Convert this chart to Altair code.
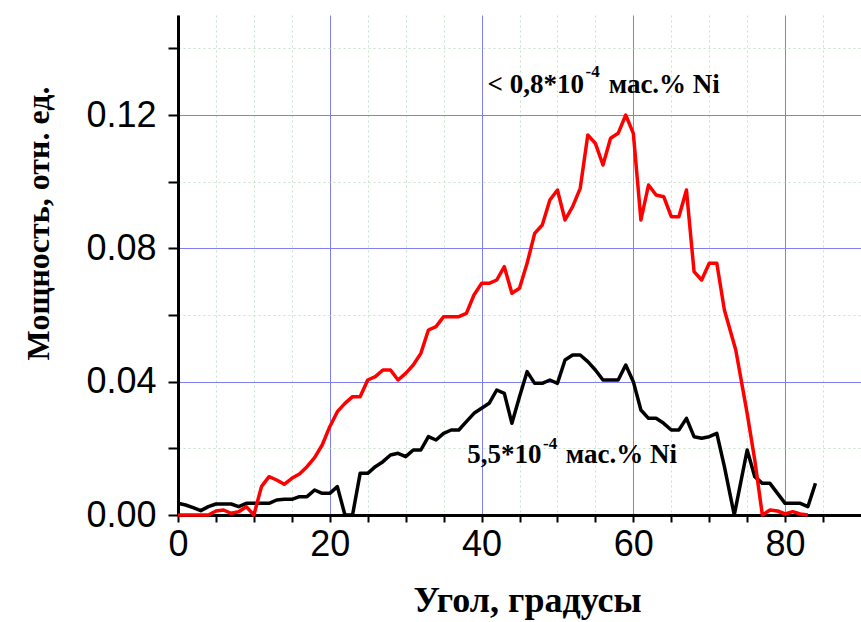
import altair as alt
import pandas as pd

# ---- data ----
x_red = [0, 1, 2, 3, 4, 5, 6, 7, 8, 9, 10, 11, 12, 13, 14, 15, 16, 17, 18, 19,
         20, 21, 22, 23, 24, 25, 26, 27, 28, 29, 30, 31, 32, 33, 34, 35, 36, 37, 38, 39,
         40, 41, 42, 43, 44, 45, 46, 47, 48, 49, 50, 51, 52, 53, 54, 55, 56, 57, 58, 59,
         60, 61, 62, 63, 64, 65, 66, 67, 68, 69, 70, 71, 72, 73.5, 75, 76, 77, 78, 79, 80,
         81, 82, 83]
y_red = [0, 0, 0, 0, 0, 0.0012, 0.0015, 0.0005, 0.001, 0.0025, 0, 0.0085, 0.0115, 0.0105, 0.0092, 0.011, 0.0123, 0.0145, 0.0172, 0.021,
         0.0265, 0.031, 0.0335, 0.0355, 0.0355, 0.0405, 0.0415, 0.0435, 0.0435, 0.0405, 0.0425, 0.045, 0.0485, 0.0555, 0.0565, 0.0595, 0.0595, 0.0595, 0.0605, 0.066,
         0.0695, 0.0695, 0.0705, 0.0745, 0.0665, 0.068, 0.0755, 0.0845, 0.087, 0.0945, 0.0975, 0.0885, 0.0925, 0.098, 0.114, 0.1115, 0.105, 0.113, 0.1145, 0.120,
         0.1145, 0.0885, 0.099, 0.096, 0.0955, 0.0895, 0.0895, 0.0975, 0.073, 0.0705, 0.0755, 0.0755, 0.0615, 0.0495, 0.0305, 0.0165, 0, 0.0015, 0.0012, 0.0003,
         0.001, 0.0003, 0]

x_black = [0, 1, 2, 3, 4, 5, 6, 7, 8, 9, 10, 11, 12, 13, 14, 15, 16, 17, 18, 19,
           20, 21, 22, 23, 24, 25, 26, 27, 28, 29, 30, 31, 32, 33, 34, 35, 36, 37, 38, 39,
           40, 41, 42, 43, 44, 45, 46, 47, 48, 49, 50, 51, 52, 53, 54, 55, 56, 57, 58, 59,
           60, 61, 62, 63, 64, 65, 66, 67, 68, 69, 70, 71, 72, 73.3, 75, 76, 77, 78, 79, 80,
           81, 82, 83, 84]
y_black = [0.0035, 0.003, 0.0022, 0.0013, 0.0025, 0.0033, 0.0033, 0.0033, 0.0025, 0.0035, 0.0035, 0.0035, 0.0035, 0.0045, 0.0047, 0.0047, 0.0055, 0.0055, 0.0075, 0.0065,
           0.0065, 0.0085, 0, 0, 0.0125, 0.0125, 0.0145, 0.016, 0.018, 0.0185, 0.0175, 0.0195, 0.0195, 0.0235, 0.0225, 0.0245, 0.0255, 0.0255, 0.028, 0.0305,
           0.032, 0.0335, 0.0375, 0.0365, 0.0275, 0.0355, 0.043, 0.0395, 0.0395, 0.0405, 0.0395, 0.0465, 0.048, 0.048, 0.046, 0.0435, 0.0405, 0.0405, 0.0405, 0.045,
           0.040, 0.0315, 0.029, 0.029, 0.0275, 0.0255, 0.0255, 0.029, 0.0235, 0.023, 0.0235, 0.0245, 0.0145, 0, 0.0195, 0.0115, 0.0095, 0.0095, 0.0065, 0.0035,
           0.0035, 0.0035, 0.0025, 0.0095]

x_ticks = list(range(0, 90, 5))
y_ticks = [i / 100 for i in range(0, 16)]

label_main = ["< 0,8*10", "5,5*10"]
label_sup = ["-4", "-4"]
label_tail = ["мас.% Ni", "мас.% Ni"]
# anchor positions of the annotation pieces in data units
main_x = [53.5, 47.9]
main_y = [0.1266, 0.0156]
sup_x = [53.7, 48.1]
sup_y = [0.1314, 0.0198]
tail_x = [56.75, 51.1]

df_red = pd.DataFrame({"x": x_red, "y": y_red})
df_black = pd.DataFrame({"x": x_black, "y": y_black})
df_main = pd.DataFrame({"x": main_x, "y": main_y, "t": label_main})
df_sup = pd.DataFrame({"x": sup_x, "y": sup_y, "t": label_sup})
df_tail = pd.DataFrame({"x": tail_x, "y": main_y, "t": label_tail})

MAJOR = "#7f7ff2"
MINOR = "#c8e0cc"

x_scale = alt.Scale(domain=[0, 90], nice=False, zero=False)
y_scale = alt.Scale(domain=[0, 0.15], nice=False, zero=False)

x_axis = alt.Axis(
    values=x_ticks,
    labelExpr="datum.value % 20 === 0 ? datum.label : ''",
    format="d",
    labelFlush=False,
    labelOverlap=False,
    domainColor="black", domainWidth=3,
    tickColor="black", tickWidth=2, tickSize=7,
    labelFont="Liberation Sans", labelFontSize=36, labelColor="black", labelPadding=5,
    title="Угол, градусы",
    titleFont="Liberation Serif", titleFontWeight="bold", titleFontSize=36, titleColor="black",
    titleX=349, titleY=96, titleBaseline="alphabetic",
    grid=True,
    gridColor={"condition": {"test": "datum.value % 20 === 0", "value": MAJOR}, "value": MINOR},
    gridDash={"condition": {"test": "datum.value % 20 === 0", "value": []}, "value": [2, 3]},
    gridWidth=1,
)

y_axis = alt.Axis(
    values=y_ticks,
    labelExpr="round(datum.value * 100) % 4 === 0 ? format(datum.value, '.2f') : ''",
    labelOverlap=False,
    labelFlush=False,
    domainColor="black", domainWidth=3,
    tickColor="black", tickWidth=2, tickSize=10,
    labelFont="Liberation Sans", labelFontSize=36, labelColor="black", labelPadding=12,
    title="Мощность, отн. ед.",
    titleFont="Liberation Serif", titleFontWeight="bold", titleFontSize=32, titleColor="black",
    titleX=-130, titleY=208, titleBaseline="alphabetic",
    grid=True,
    gridColor={"condition": {"test": "round(datum.value * 100) % 4 === 0", "value": MAJOR}, "value": MINOR},
    gridDash={"condition": {"test": "round(datum.value * 100) % 4 === 0", "value": []}, "value": [2, 3]},
    gridWidth=1,
)

black_line = alt.Chart(df_black).mark_line(color="black", strokeWidth=3.5, strokeJoin="round").encode(
    x=alt.X("x:Q", scale=x_scale, axis=x_axis),
    y=alt.Y("y:Q", scale=y_scale, axis=y_axis),
    order="x:Q",
)
red_line = alt.Chart(df_red).mark_line(color="#ff0000", strokeWidth=3.5, strokeJoin="round").encode(
    x=alt.X("x:Q", scale=x_scale),
    y=alt.Y("y:Q", scale=y_scale),
    order="x:Q",
)

txt_main = alt.Chart(df_main).mark_text(
    font="Liberation Serif", fontWeight="bold", fontSize=27, color="black",
    align="right", baseline="alphabetic",
).encode(x=alt.X("x:Q", scale=x_scale), y=alt.Y("y:Q", scale=y_scale), text="t:N")
txt_sup = alt.Chart(df_sup).mark_text(
    font="Liberation Serif", fontWeight="bold", fontSize=17, color="black",
    align="left", baseline="alphabetic",
).encode(x=alt.X("x:Q", scale=x_scale), y=alt.Y("y:Q", scale=y_scale), text="t:N")
txt_tail = alt.Chart(df_tail).mark_text(
    font="Liberation Serif", fontWeight="bold", fontSize=27, color="black",
    align="left", baseline="alphabetic",
).encode(x=alt.X("x:Q", scale=x_scale), y=alt.Y("y:Q", scale=y_scale), text="t:N")

chart = alt.layer(black_line, red_line, txt_main, txt_sup, txt_tail).properties(
    width=683, height=500,
    padding={"left": 178, "top": 15, "right": 0, "bottom": 107},
    autosize=alt.AutoSizeParams(type="none"),
    background="white",
).configure_view(stroke=None)

chart.save("out.html", embed_options={"renderer": "svg", "actions": False})
